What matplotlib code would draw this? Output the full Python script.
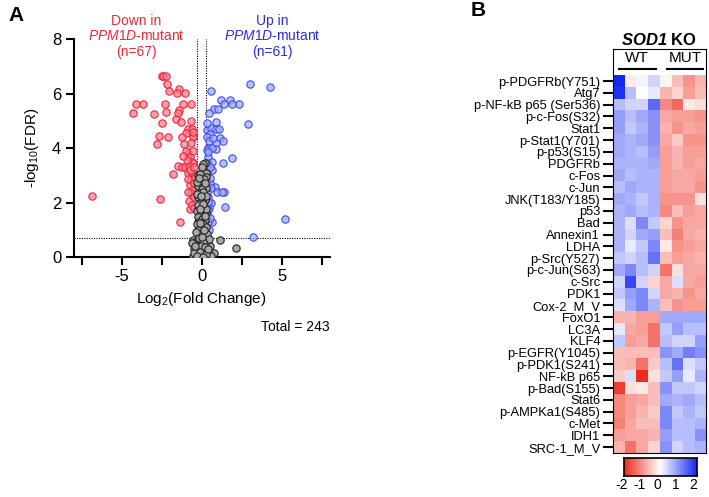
import matplotlib
matplotlib.use('Agg')
import matplotlib.pyplot as plt
import numpy as np
from matplotlib.colors import LinearSegmentedColormap

plt.rcParams['font.family'] = ['Liberation Sans', 'DejaVu Sans']
plt.rcParams['mathtext.fontset'] = 'custom'
plt.rcParams['mathtext.rm'] = 'Liberation Sans'
plt.rcParams['mathtext.it'] = 'Liberation Sans:italic'
plt.rcParams['mathtext.bf'] = 'Liberation Sans:bold'
plt.rcParams['mathtext.bfit'] = 'Liberation Sans:bold:italic'

# ---- panel A: volcano data (log2 fold change, -log10 FDR) ----
down_points = [
    (-2.50, 6.64), (-2.40, 6.64), (-2.23, 6.64), (-2.19, 6.34), (-2.04, 6.08),
    (-1.40, 6.15), (-1.53, 6.01), (-1.06, 6.02), (-4.11, 5.61), (-3.69, 5.61),
    (-2.29, 5.61), (-1.15, 5.61), (-0.69, 5.61), (-4.28, 5.28), (-3.00, 5.24),
    (-2.21, 5.33), (-1.44, 5.39), (-1.50, 5.28), (-1.63, 5.08), (-1.29, 4.95),
    (-2.48, 4.91), (-0.88, 4.70), (-0.61, 4.70), (-2.78, 4.15), (-2.65, 4.44),
    (-2.13, 4.41), (-1.09, 4.15), (-0.98, 4.56), (-0.56, 4.45), (-0.53, 4.39),
    (-0.88, 3.77), (-0.73, 3.66), (-0.63, 3.50), (-0.53, 3.44), (-1.50, 3.34),
    (-1.25, 3.31), (-1.04, 3.31), (-0.79, 3.34), (-1.78, 3.05), (-0.84, 3.07),
    (-0.63, 3.13), (-0.69, 2.83), (-0.73, 2.64), (-0.63, 2.46), (-6.88, 2.25),
    (-2.61, 2.12), (-1.36, 1.27), (-0.79, 2.06), (-0.73, 1.75), (-0.67, 2.36),
    (-0.94, 3.56), (-0.84, 2.85), (-0.55, 3.90), (-0.65, 4.20), (-0.95, 3.90),
    (-0.50, 2.20), (-0.60, 1.90), (-0.50, 2.70), (-0.75, 3.20), (-1.15, 3.70),
    (-0.45, 3.30), (-0.55, 4.60), (-0.85, 2.40), (-0.45, 1.80), (-1.25, 4.40),
    (-0.65, 5.00), (-0.40, 2.95),
]
up_points = [
    (3.02, 6.34), (4.27, 6.25), (0.56, 6.09), (1.19, 5.76), (1.77, 5.76),
    (1.41, 5.60), (1.88, 5.60), (2.35, 5.60), (0.79, 5.42), (1.04, 5.44),
    (0.46, 5.30), (2.88, 4.87), (0.88, 4.97), (0.31, 4.66), (0.58, 4.72),
    (0.89, 4.69), (1.10, 4.69), (0.52, 4.50), (0.31, 4.42), (1.14, 4.36),
    (1.35, 4.26), (0.89, 4.17), (0.48, 4.26), (0.41, 3.99), (0.89, 3.95),
    (0.31, 3.93), (0.63, 3.99), (0.41, 3.66), (1.88, 3.62), (1.35, 3.44),
    (0.63, 3.50), (0.31, 3.26), (0.63, 3.19), (0.35, 3.07), (0.31, 2.73),
    (0.83, 2.58), (1.41, 2.37), (1.46, 1.85), (5.21, 1.39), (3.23, 0.72),
    (0.52, 2.70), (0.58, 2.52), (0.41, 2.21), (0.56, 1.97), (0.48, 1.79),
    (0.66, 1.30), (0.41, 1.30), (0.48, 0.99), (0.31, 1.54), (0.52, 1.42),
    (0.94, 2.40), (1.25, 2.40), (0.41, 2.03), (0.41, 1.72), (0.38, 3.85),
    (0.33, 3.45), (0.72, 4.35), (0.36, 4.90), (0.50, 3.30), (0.55, 2.90),
    (0.36, 2.40),
]
ns_points = [
    (0.22, 3.44), (0.07, 3.42), (-0.24, 3.00), (0.10, 3.20), (0.25, 3.10),
    (-0.10, 3.05), (0.28, 2.95), (-0.03, 2.70), (0.15, 2.85), (-0.20, 2.60),
    (0.25, 2.55), (0.05, 2.50), (-0.28, 2.75), (-0.14, 2.34), (0.10, 2.40),
    (-0.25, 2.20), (0.20, 2.10), (0.00, 2.05), (-0.28, 2.30), (0.28, 2.25),
    (-0.10, 2.00), (-0.20, 1.90), (0.12, 1.85), (-0.28, 1.70), (0.05, 1.65),
    (0.25, 1.60), (-0.10, 1.55), (0.28, 1.75), (-0.20, 1.48), (0.00, 1.40),
    (-0.25, 1.30), (0.20, 1.35), (0.10, 1.20), (-0.15, 1.15), (0.28, 1.10),
    (-0.05, 1.05), (-0.28, 1.20), (-0.24, 0.99), (0.15, 0.95), (0.00, 0.85),
    (-0.10, 0.80), (0.25, 0.75), (-0.35, 0.90), (0.35, 0.85), (-0.55, 0.62),
    (1.12, 0.62), (-0.40, 0.55), (-0.20, 0.60), (0.05, 0.65), (0.30, 0.58),
    (0.55, 0.40), (-0.10, 0.45), (0.20, 0.50), (-0.30, 0.40), (0.45, 0.65),
    (-0.60, 0.50), (2.17, 0.34), (-0.50, 0.30), (-0.20, 0.30), (0.00, 0.35),
    (0.25, 0.28), (0.40, 0.22), (-0.35, 0.20), (0.10, 0.20), (-0.05, 0.25),
    (0.80, 0.14), (-0.55, 0.04), (-0.35, 0.04), (-0.15, 0.05), (0.05, 0.08),
    (0.25, 0.05), (0.45, 0.10), (-0.25, 0.12), (0.15, 0.15), (-0.45, 0.15),
    (0.60, 0.05), (0.00, 0.02), (-0.05, 0.10), (0.00, 3.30), (-0.15, 2.90),
    (0.18, 2.70), (-0.05, 2.25), (0.08, 1.95), (-0.12, 1.75), (0.18, 1.50),
    (-0.08, 1.25), (0.12, 1.00), (-0.18, 0.70), (0.08, 0.55), (-0.02, 0.42),
    (0.18, 0.35), (-0.12, 0.20), (0.30, 0.12), (-0.28, 0.02), (0.10, 0.00),
    (0.38, 0.30), (-0.42, 0.42), (0.02, 0.75),
]
fc_cut = 0.3
fdr_cut = 0.7
total_proteins = 243

# ---- panel B: heatmap data ----
proteins = ['p-PDGFRb(Y751)', 'Atg7', 'p-NF-kB p65 (Ser536)', 'p-c-Fos(S32)',
            'Stat1', 'p-Stat1(Y701)', 'p-p53(S15)', 'PDGFRb', 'c-Fos', 'c-Jun',
            'JNK(T183/Y185)', 'p53', 'Bad', 'Annexin1', 'LDHA', 'p-Src(Y527)',
            'p-c-Jun(S63)', 'c-Src', 'PDK1', 'Cox-2_M_V', 'FoxO1', 'LC3A', 'KLF4',
            'p-EGFR(Y1045)', 'p-PDK1(S241)', 'NF-kB p65', 'p-Bad(S155)', 'Stat6',
            'p-AMPKa1(S485)', 'c-Met', 'IDH1', 'SRC-1_M_V']
groups = ['WT', 'MUT']
zscores = np.array([
    [2.0, -0.2, 0.1, 0.4, -0.1, -0.6, -1.0, -0.7],
    [1.9, 0.6, 0.0, 0.2, -0.7, -0.4, -0.9, -0.6],
    [0.6, 0.4, 0.4, 1.4, -1.1, -1.4, -0.2, -0.3],
    [0.9, 0.6, 0.8, 1.0, -0.8, -0.9, -0.9, -1.0],
    [0.9, 0.5, 0.7, 1.0, -0.7, -1.0, -0.8, -0.9],
    [0.8, 0.7, 0.8, 1.0, -0.8, -0.5, -1.0, -1.0],
    [0.8, 0.7, 0.6, 0.9, -0.9, -0.7, -0.9, -0.9],
    [0.7, 0.7, 0.7, 0.8, -0.9, -0.7, -0.9, -0.8],
    [0.8, 0.6, 0.7, 0.7, -0.9, -0.8, -0.8, -0.9],
    [0.6, 0.8, 0.7, 0.7, -0.9, -0.8, -0.8, -1.0],
    [0.8, 0.7, 0.5, 0.7, -1.0, -1.0, -1.0, -0.3],
    [0.7, 0.8, 0.6, 0.7, -1.1, -0.6, -0.9, -0.8],
    [0.7, 0.3, 1.1, 0.5, -0.4, -1.0, -0.8, -0.8],
    [0.7, 0.4, 0.8, 0.9, -0.6, -1.2, -0.8, -0.7],
    [0.7, 0.2, 0.5, 1.1, -0.2, -1.0, -0.9, -0.8],
    [0.5, 0.4, 0.6, 1.3, -0.6, -0.9, -0.8, -0.7],
    [0.8, 1.1, 0.6, 0.4, -1.3, -0.3, -0.8, -0.8],
    [0.4, 1.7, 0.4, -0.4, -0.8, 0.3, -0.8, -0.9],
    [0.5, 0.9, 1.1, 0.4, -0.8, -0.7, -1.0, -0.8],
    [0.3, 0.8, 1.1, 0.7, -0.6, -1.0, -0.9, -0.9],
    [-0.7, -0.7, -0.9, -0.9, 0.8, 0.8, 0.8, 0.8],
    [0.2, -0.8, -0.9, -1.3, 0.5, 0.9, 0.6, 0.6],
    [0.5, -0.9, -0.8, -1.3, 0.6, 0.4, 0.4, 0.9],
    [-0.6, -0.6, -0.6, -0.6, 1.0, 0.8, 1.2, 1.0],
    [-0.6, -0.7, -1.3, -0.5, 0.6, 1.3, 0.3, 0.5],
    [-0.5, 0.3, -2.0, -0.3, 0.5, 0.9, 0.2, 0.7],
    [-1.8, -0.3, -0.2, -0.6, 1.0, 0.5, 0.5, 0.4],
    [-1.1, -0.9, -0.8, -0.6, 0.8, 0.7, 0.8, 0.6],
    [-1.1, -0.9, -0.7, -0.5, 1.1, 0.5, 0.7, 0.5],
    [-1.2, -0.8, -0.6, -0.6, 1.1, 0.6, 0.6, 0.7],
    [-0.9, -0.8, -0.8, -0.7, 0.9, 0.6, 0.6, 1.0],
    [-0.7, -1.3, -0.8, -0.4, 1.0, 0.4, 0.6, 0.7],
])
cbar_ticks = [-2, -1, 0, 1, 2]

fig = plt.figure(figsize=(7.09, 4.97), dpi=100)

# ---------------- volcano ----------------
ax = fig.add_axes([0.1039, 0.4829, 0.3611, 0.4386])
down = np.array(down_points)
up = np.array(up_points)
ns = np.array(ns_points)
ax.scatter(down[:, 0], down[:, 1], s=28, facecolor=(0.98, 0.50, 0.55, 0.75),
           edgecolor=(0.93, 0.15, 0.25), linewidth=0.8, zorder=3)
ax.scatter(up[:, 0], up[:, 1], s=28, facecolor=(0.62, 0.67, 0.98, 0.75),
           edgecolor=(0.25, 0.30, 0.95), linewidth=0.8, zorder=3)
ax.scatter(ns[:, 0], ns[:, 1], s=28, facecolor=(0.66, 0.66, 0.66),
           edgecolor='#222222', linewidth=0.8, zorder=4)
ax.axhline(fdr_cut, color='black', linestyle=(0, (1, 1.2)), linewidth=0.8, zorder=2)
ax.plot([-fc_cut, -fc_cut], [0, 8], color='black', linestyle=(0, (1, 1.2)), linewidth=0.8, zorder=2)
ax.plot([fc_cut, fc_cut], [0, 8], color='black', linestyle=(0, (1, 1.2)), linewidth=0.8, zorder=2)

ax.set_xlim(-8, 8)
ax.set_ylim(0, 8)
ax.set_xticks(np.arange(-7.5, 7.6, 2.5))
ax.set_xticklabels(['' if t not in (-5, 0, 5) else f'{t:g}' for t in np.arange(-7.5, 7.6, 2.5)])
ax.set_yticks([0, 2, 4, 6, 8])
ax.tick_params(labelsize=12, length=6, width=1.5, pad=3)
for s in ['top', 'right']:
    ax.spines[s].set_visible(False)
for s in ['left', 'bottom']:
    ax.spines[s].set_linewidth(1.5)
ax.set_xlabel(r'Log$_2$(Fold Change)', fontsize=11, labelpad=4)
ax.set_ylabel(r'-log$_{10}$(FDR)', fontsize=11, labelpad=8)

ax.text(-4.1, 8.1, 'Down in\n' + r'$\it{PPM1D}$-mutant' + '\n(n=67)', color='#EE2A3A',
        fontsize=10, ha='center', va='center', linespacing=1.15, clip_on=False)
ax.text(4.4, 8.1, 'Up in\n' + r'$\it{PPM1D}$-mutant' + '\n(n=61)', color='#2B2BF0',
        fontsize=10, ha='center', va='center', linespacing=1.15, clip_on=False)
ax.text(1.0, -0.32, f'Total = {total_proteins}', transform=ax.transAxes,
        fontsize=10, ha='right', va='center')

fig.text(0.012, 0.969, 'A', fontsize=15, fontweight='bold', ha='left', va='center')
fig.text(0.664, 0.979, 'B', fontsize=15, fontweight='bold', ha='left', va='center')

# ---------------- heatmap ----------------
cmap = LinearSegmentedColormap.from_list('rwb', ['#EE2A1A', '#FFFFFF', '#1428F2'])
axh = fig.add_axes([0.8642, 0.0885, 0.1316, 0.812])
axh.imshow(zscores, cmap=cmap, vmin=-2, vmax=2, aspect='auto', interpolation='nearest')
axh.set_yticks(range(len(proteins)))
axh.set_yticklabels(proteins, fontsize=9.3)
axh.set_xticks([])
axh.tick_params(axis='y', length=7, width=1.5, pad=2)
for s in axh.spines.values():
    s.set_linewidth(0.8)

axh.text(3.5, -3.5, r'$\mathbfit{SOD1}$ KO', fontsize=12, fontweight='bold',
         ha='center', va='center')
axh.text(1.6, -1.95, groups[0], fontsize=11, ha='center', va='center')
axh.text(5.7, -1.95, groups[1], fontsize=11, ha='center', va='center')
axh.plot([0.05, 3.25], [-1.05, -1.05], color='black', lw=1.5, clip_on=False)
axh.plot([4.15, 7.25], [-1.05, -1.05], color='black', lw=1.5, clip_on=False)

# colorbar
axc = fig.add_axes([0.8805, 0.0430, 0.1021, 0.0362])
grad = np.linspace(-2, 2, 256).reshape(1, -1)
axc.imshow(grad, cmap=cmap, vmin=-2, vmax=2, aspect='auto', extent=[-1.84, 2.18, 0, 1])
axc.set_xlim(-1.84, 2.18)
axc.set_xticks([])
axc.set_yticks([])
for s in axc.spines.values():
    s.set_linewidth(1.2)
for t in cbar_ticks:
    axc.text(t, -0.15, f'{t}', fontsize=10, ha='center', va='top',
             transform=axc.get_xaxis_transform(), clip_on=False)

fig.savefig('out.png', dpi=100)
